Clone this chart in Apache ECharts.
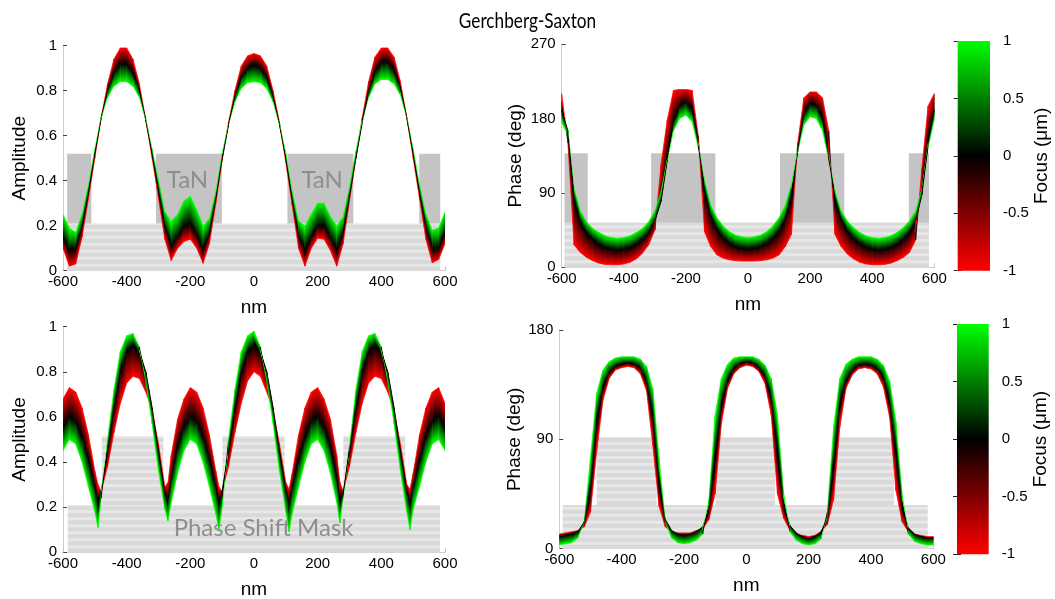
<!DOCTYPE html>
<html>
<head>
<meta charset="utf-8">
<script src="https://cdn.jsdelivr.net/npm/echarts@6/dist/echarts.min.js"></script>
<style>
  html, body { margin: 0; padding: 0; background: #ffffff; }
  #chart { width: 1055px; height: 599px; }
</style>
</head>
<body>
<div id="chart"></div>
<script>
// Lateral position across the mask (nm)
const positions = [-600,-580,-560,-540,-520,-500,-480,-460,-440,-420,-400,-380,-360,-340,-320,-300,-280,-260,-240,-220,-200,-180,-160,-140,-120,-100,-80,-60,-40,-20,0,20,40,60,80,100,120,140,160,180,200,220,240,260,280,300,320,340,360,380,400,420,440,460,480,500,520,540,560,580,600];
// Phase shift mask amplitude is sampled more finely at its sharp minima
const psmAmpPositions = [-600,-580,-560,-540,-520,-500,-490,-480,-460,-440,-420,-400,-380,-360,-340,-320,-300,-280,-270,-260,-240,-220,-200,-180,-160,-140,-120,-110,-100,-80,-60,-40,-20,0,20,40,60,80,100,110,120,140,160,180,200,220,240,260,270,280,300,320,340,360,380,400,420,440,460,480,490,500,520,540,560,580,600];

// Binary TaN mask: amplitude at focus -1 / 0 / +1 um
const tanAmpFocusMinus = [0.10,0.02,0.03,0.15,0.32,0.50,0.68,0.83,0.94,0.99,0.99,0.94,0.83,0.67,0.50,0.32,0.14,0.045,0.10,0.13,0.14,0.10,0.033,0.12,0.30,0.49,0.66,0.80,0.91,0.955,0.965,0.955,0.91,0.80,0.66,0.48,0.29,0.10,0.02,0.10,0.145,0.14,0.09,0.02,0.12,0.31,0.50,0.68,0.84,0.95,0.99,0.99,0.95,0.84,0.68,0.50,0.32,0.14,0.035,0.05,0.12];
const tanAmpFocusZero = [0.15,0.09,0.10,0.20,0.35,0.52,0.68,0.80,0.88,0.92,0.92,0.88,0.80,0.67,0.52,0.36,0.20,0.11,0.15,0.20,0.21,0.16,0.095,0.17,0.32,0.50,0.65,0.77,0.86,0.90,0.915,0.90,0.86,0.77,0.65,0.50,0.32,0.16,0.09,0.15,0.20,0.20,0.15,0.095,0.17,0.33,0.50,0.66,0.79,0.88,0.925,0.93,0.89,0.81,0.68,0.52,0.35,0.20,0.10,0.10,0.17];
const tanAmpFocusPlus = [0.25,0.19,0.17,0.25,0.38,0.54,0.68,0.77,0.82,0.84,0.84,0.82,0.77,0.67,0.54,0.40,0.26,0.22,0.25,0.31,0.33,0.27,0.20,0.23,0.35,0.52,0.65,0.75,0.81,0.835,0.84,0.835,0.81,0.75,0.65,0.52,0.35,0.22,0.20,0.25,0.30,0.30,0.24,0.20,0.24,0.37,0.53,0.67,0.77,0.83,0.85,0.85,0.83,0.78,0.68,0.54,0.38,0.25,0.18,0.19,0.26];

// Binary TaN mask: phase (deg) at focus -1 / 0 / +1 um
const tanPhaseFocusMinus = [210,150,27,18,12,8,5,3.5,3,3,4,6,10,17,27,45,125,178,214,215,215,214,159,43,25,15,11,9,8,7.5,7.5,7.5,8,9,11,15,25,40,150,205,212,212,205,165,40,25,16,10,6,4,3,3,3.5,5,8,12,18,33,120,195,210];
const tanPhaseFocusZero = [190,165,85,55,42,34,28,24,22,21,22,24,28,34,42,56,80,130,175,195,200,190,150,95,62,46,36,29,25,23,22,23,25,29,35,44,58,90,140,185,198,196,180,135,85,58,44,35,29,25,22,21,22,24,28,34,42,56,88,150,190];
const tanPhaseFocusPlus = [175,160,95,68,55,47,42,38,36,35,36,38,42,47,55,68,92,130,165,180,184,176,145,105,75,60,50,43,39,37,36,37,39,43,50,60,75,100,140,172,182,180,165,130,92,68,56,48,42,38,36,35,36,38,42,48,56,68,95,145,178];

// Phase shift mask: amplitude at focus -1 / 0 / +1 um (on psmAmpPositions)
const psmAmpFocusMinus = [0.68,0.73,0.71,0.64,0.52,0.36,0.30,0.27,0.38,0.53,0.66,0.75,0.78,0.77,0.71,0.63,0.48,0.29,0.31,0.43,0.59,0.68,0.73,0.71,0.64,0.52,0.36,0.29,0.27,0.38,0.53,0.66,0.76,0.80,0.78,0.71,0.63,0.48,0.31,0.28,0.35,0.52,0.64,0.71,0.73,0.68,0.59,0.43,0.31,0.27,0.38,0.53,0.66,0.75,0.78,0.77,0.71,0.63,0.48,0.30,0.28,0.35,0.52,0.64,0.71,0.73,0.66];
const psmAmpFocusZero = [0.555,0.60,0.58,0.51,0.41,0.29,0.22,0.27,0.45,0.64,0.80,0.89,0.92,0.89,0.80,0.64,0.45,0.26,0.23,0.33,0.47,0.555,0.60,0.58,0.51,0.41,0.29,0.22,0.27,0.45,0.64,0.80,0.89,0.92,0.89,0.80,0.64,0.45,0.27,0.22,0.29,0.41,0.51,0.58,0.60,0.555,0.47,0.33,0.23,0.26,0.45,0.64,0.80,0.89,0.92,0.89,0.80,0.64,0.45,0.27,0.22,0.29,0.41,0.51,0.58,0.60,0.555];
const psmAmpFocusPlus = [0.45,0.50,0.48,0.40,0.29,0.18,0.11,0.24,0.50,0.72,0.89,0.96,0.97,0.91,0.76,0.57,0.36,0.19,0.14,0.22,0.35,0.45,0.50,0.48,0.40,0.29,0.17,0.10,0.20,0.50,0.72,0.89,0.96,0.98,0.91,0.76,0.57,0.36,0.18,0.09,0.17,0.29,0.40,0.48,0.50,0.45,0.35,0.22,0.13,0.24,0.47,0.72,0.89,0.96,0.97,0.91,0.76,0.57,0.36,0.18,0.10,0.19,0.29,0.40,0.48,0.50,0.45];

// Phase shift mask: phase (deg) at focus -1 / 0 / +1 um
const psmPhaseFocusMinus = [12,13,14,15,18,30,80,122,140,147,149,150,149,144,130,85,35,18,14,13,13,13,15,16,24,45,103,132,144,149,151,150,146,136,110,45,25,15,12,11,10,11,14,20,40,100,132,143,148,149,148,144,133,108,48,22,14,12,11,10,10];
const psmPhaseFocusZero = [10,11,12,14,22,48,105,133,145,150,152,153,152,149,137,110,52,24,15,12,11,12,14,18,32,75,118,138,148,152,154,153,149,142,124,80,35,19,13,10,8,10,14,25,68,120,138,147,151,152,151,148,141,120,80,35,17,12,10,9,9];
const psmPhaseFocusPlus = [3,4,5,9,22,75,128,147,154,157,158,158,158,156,150,132,75,22,9,5,4,5,7,12,40,110,140,152,157,158,158,158,156,151,140,110,45,14,7,4,3,4,8,30,100,140,152,156,158,158,158,156,151,138,105,45,12,6,4,3,3];

// Mask cross-sections drawn behind the curves: [x0, x1, y0, y1]
const tanAmpSolid = [[-587,-511,0.21,0.52],[-308,-101,0.21,0.52],[105,312,0.21,0.52],[519,585,0.21,0.52]];
const tanAmpLayered = [[-587,585,0,0.21]];
const tanPhaseSolid = [[-591,-516,54,138],[-312,-105,54,138],[103,310,54,138],[518,583,54,138]];
const tanPhaseLayered = [[-591,583,0,54]];
const psmAmpLayered = [[-585,584,0,0.21],[-478,-285,0.21,0.515],[-99,96,0.21,0.515],[281,475,0.21,0.515]];
const psmPhaseLayered = [[-589,582,0,36],[-480,-288,36,92],[-98,92,36,92],[282,474,36,92]];

// Annotations in data coordinates
const tanLabels = [[-209,0.403,'TaN'],[214,0.403,'TaN']];
const psmLabels = [[30,0.106,'Phase Shift Mask']];

// Colour scale for focus (um)
const focusTicks = [-1,-0.5,0,0.5,1];
const RED = '#ff0000', BLACK = '#000000', GREEN = '#00ff00';

const TICK_FONT = '"Liberation Sans", Arial, sans-serif';
const NOTE_FONT = 'Lato, "Open Sans", sans-serif';

function bandQuad(A, B, cA, cB) {
  // Gradient runs across the band, perpendicular to its local direction
  const dx = (A[1][0] - A[0][0]) + (B[1][0] - B[0][0]);
  const dy = (A[1][1] - A[0][1]) + (B[1][1] - B[0][1]);
  const len = Math.hypot(dx, dy) || 1;
  const nx = -dy / len, ny = dx / len;
  const ma = [(A[0][0] + A[1][0]) / 2, (A[0][1] + A[1][1]) / 2];
  const mb = [(B[0][0] + B[1][0]) / 2, (B[0][1] + B[1][1]) / 2];
  let t = (mb[0] - ma[0]) * nx + (mb[1] - ma[1]) * ny;
  if (Math.abs(t) < 0.6) t = t < 0 ? -0.6 : 0.6;
  const grad = new echarts.graphic.LinearGradient(
    ma[0], ma[1], ma[0] + nx * t, ma[1] + ny * t,
    [{ offset: 0, color: cA }, { offset: 1, color: cB }], true);
  return {
    type: 'polygon',
    shape: { points: [A[0], A[1], B[1], B[0]] },
    style: { fill: grad, stroke: grad, lineWidth: 0.7 }
  };
}

function focusBand(idx, xs, minus, zero, plus) {
  const data = xs.slice(0, -1).map((x, i) =>
    [x, xs[i + 1], minus[i], minus[i + 1], zero[i], zero[i + 1], plus[i], plus[i + 1]]);
  return {
    type: 'custom', xAxisIndex: idx, yAxisIndex: idx, z: 5, clip: true, silent: true,
    data: data,
    encode: { x: [0, 1], y: [2, 3, 4, 5, 6, 7] },
    renderItem: function (params, api) {
      const x0 = api.value(0), x1 = api.value(1);
      const R = [api.coord([x0, api.value(2)]), api.coord([x1, api.value(3)])];
      const K = [api.coord([x0, api.value(4)]), api.coord([x1, api.value(5)])];
      const G = [api.coord([x0, api.value(6)]), api.coord([x1, api.value(7)])];
      return { type: 'group', children: [bandQuad(R, K, RED, BLACK), bandQuad(K, G, BLACK, GREEN)] };
    }
  };
}

function maskSeries(idx, rects, layered) {
  return {
    type: 'custom', xAxisIndex: idx, yAxisIndex: idx, z: 1, silent: true,
    data: rects,
    encode: { x: [0, 1], y: [2, 3] },
    renderItem: function (params, api) {
      const p0 = api.coord([api.value(0), api.value(3)]);
      const p1 = api.coord([api.value(1), api.value(2)]);
      const x = p0[0], y = p0[1], w = p1[0] - p0[0], h = p1[1] - p0[1];
      if (!layered) {
        return { type: 'rect', shape: { x: x, y: y, width: w, height: h }, style: { fill: '#c4c4c4' } };
      }
      const children = [{ type: 'rect', shape: { x: x, y: y, width: w, height: h }, style: { fill: '#e7e7e7' } }];
      for (let yy = y + h; yy > y + 0.5; yy -= 7) {
        const top = Math.max(y, yy - 4);
        children.push({ type: 'rect', shape: { x: x, y: top, width: w, height: yy - top }, style: { fill: '#d9d9d9' } });
      }
      return { type: 'group', children: children };
    }
  };
}

function labelSeries(idx, labels) {
  return {
    type: 'custom', xAxisIndex: idx, yAxisIndex: idx, z: 2, silent: true,
    data: labels.map(l => [l[0], l[1]]),
    renderItem: function (params, api) {
      const p = api.coord([api.value(0), api.value(1)]);
      return {
        type: 'text', x: p[0], y: p[1],
        style: { text: labels[params.dataIndex][2], fill: '#8e8e8e', font: '24px ' + NOTE_FONT,
                 align: 'center', verticalAlign: 'middle' }
      };
    }
  };
}

function colorBar(idx) {
  return {
    type: 'custom', xAxisIndex: idx, yAxisIndex: idx, z: 2, silent: true,
    data: [[0, focusTicks[0]]],
    renderItem: function (params, api) {
      const top = api.coord([0, focusTicks[focusTicks.length - 1]]);
      const bot = api.coord([1, focusTicks[0]]);
      return {
        type: 'rect',
        shape: { x: top[0], y: top[1], width: bot[0] - top[0], height: bot[1] - top[1] },
        style: {
          fill: new echarts.graphic.LinearGradient(0, 0, 0, 1, [
            { offset: 0, color: GREEN }, { offset: 0.5, color: BLACK }, { offset: 1, color: RED }])
        }
      };
    }
  };
}

function posXAxis(gridIndex) {
  return {
    type: 'value', gridIndex: gridIndex, min: -600, max: 600, interval: 200,
    name: 'nm', nameLocation: 'middle', nameGap: 28,
    nameTextStyle: { fontFamily: TICK_FONT, fontSize: 19, color: '#000' },
    axisLine: { onZero: false, lineStyle: { color: '#cfcfcf', width: 1 } },
    axisTick: { inside: true, length: 4, lineStyle: { color: '#c4c4c4' } },
    axisLabel: { fontFamily: TICK_FONT, fontSize: 15, color: '#000', margin: 4 },
    splitLine: { show: false }
  };
}

function valYAxis(gridIndex, name, max, interval, gap) {
  return {
    type: 'value', gridIndex: gridIndex, min: 0, max: max, interval: interval,
    name: name, nameLocation: 'middle', nameGap: gap,
    nameTextStyle: { fontFamily: TICK_FONT, fontSize: 19, color: '#000' },
    axisLine: { show: true, onZero: false, lineStyle: { color: '#cfcfcf', width: 1 } },
    axisTick: { show: true, inside: true, length: 4, lineStyle: { color: '#444' } },
    axisLabel: { fontFamily: TICK_FONT, fontSize: 15, color: '#000', margin: 6 },
    splitLine: { show: false }
  };
}

function barXAxis(gridIndex) {
  return { type: 'value', gridIndex: gridIndex, min: 0, max: 1, show: false };
}

function barYAxis(gridIndex, withLabels) {
  return {
    type: 'value', gridIndex: gridIndex, min: -1, max: 1, interval: 0.5,
    position: withLabels ? 'right' : 'left',
    name: withLabels ? 'Focus (\u03bcm)' : '', nameLocation: 'middle', nameGap: 33,
    nameTextStyle: { fontFamily: TICK_FONT, fontSize: 19, color: '#000' },
    axisLine: { show: false },
    axisTick: { show: true, inside: true, length: 4, lineStyle: { color: '#222' } },
    axisLabel: { show: withLabels, fontFamily: TICK_FONT, fontSize: 15, color: '#000', margin: 13 },
    splitLine: { show: false }
  };
}

const chart = echarts.init(document.getElementById('chart'), null, { renderer: 'canvas' });
chart.setOption({
  animation: false,
  backgroundColor: '#ffffff',
  // Figure title, set slightly condensed
  graphic: [{
    type: 'text', x: 527.5, y: 21, scaleX: 0.82, z: 10,
    style: { text: 'Gerchberg-Saxton', font: '21px ' + NOTE_FONT, fill: '#000',
             align: 'center', verticalAlign: 'middle' }
  }],
  grid: [
    { left: 63, top: 45.7, width: 382, height: 225, outerBoundsMode: 'none' },
    { left: 561.7, top: 44, width: 372.6, height: 223.3, outerBoundsMode: 'none' },
    { left: 63, top: 326.7, width: 382, height: 225.6, outerBoundsMode: 'none' },
    { left: 559.3, top: 330, width: 374, height: 218.7, outerBoundsMode: 'none' },
    { left: 957.7, top: 41, width: 32.3, height: 229.7, outerBoundsMode: 'none' },
    { left: 957, top: 324, width: 31.7, height: 230.3, outerBoundsMode: 'none' }
  ],
  xAxis: [posXAxis(0), posXAxis(1), posXAxis(2), posXAxis(3), barXAxis(4), barXAxis(5), barXAxis(4), barXAxis(5)],
  yAxis: [
    valYAxis(0, 'Amplitude', 1, 0.2, 34),
    valYAxis(1, 'Phase (deg)', 270, 90, 36),
    valYAxis(2, 'Amplitude', 1, 0.2, 34),
    valYAxis(3, 'Phase (deg)', 180, 90, 34),
    barYAxis(4, true), barYAxis(5, true),
    barYAxis(4, false), barYAxis(5, false)
  ],
  series: [
    maskSeries(0, tanAmpLayered, true), maskSeries(0, tanAmpSolid, false), labelSeries(0, tanLabels),
    maskSeries(1, tanPhaseLayered, true), maskSeries(1, tanPhaseSolid, false),
    maskSeries(2, psmAmpLayered, true), labelSeries(2, psmLabels),
    maskSeries(3, psmPhaseLayered, true),
    focusBand(0, positions, tanAmpFocusMinus, tanAmpFocusZero, tanAmpFocusPlus),
    focusBand(1, positions, tanPhaseFocusMinus, tanPhaseFocusZero, tanPhaseFocusPlus),
    focusBand(2, psmAmpPositions, psmAmpFocusMinus, psmAmpFocusZero, psmAmpFocusPlus),
    focusBand(3, positions, psmPhaseFocusMinus, psmPhaseFocusZero, psmPhaseFocusPlus),
    colorBar(4), colorBar(5)
  ]
});
</script>
</body>
</html>
